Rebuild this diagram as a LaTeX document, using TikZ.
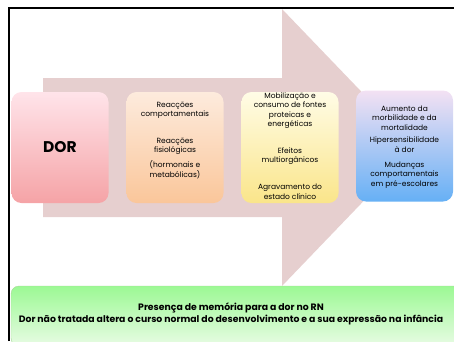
\documentclass[tikz,border=0pt]{standalone}
\usepackage{fontspec}
\setmainfont{Poppins}
\usetikzlibrary{positioning}
\definecolor{arrowpink}{HTML}{E6CFCF}
\definecolor{dortop}{HTML}{FFE4EA}
\definecolor{dorbottom}{HTML}{F5A3A6}
\definecolor{peachtop}{HTML}{FDEBDD}
\definecolor{peachbottom}{HTML}{FAC69A}
\definecolor{yellowtop}{HTML}{FFFCE6}
\definecolor{yellowbottom}{HTML}{FAE58A}
\definecolor{bluetop}{HTML}{F3E1F3}
\definecolor{bluemid}{HTML}{B3C8EE}
\definecolor{bluebottom}{HTML}{66B0F5}
\definecolor{greentop}{HTML}{9CF994}
\definecolor{greenbottom}{HTML}{E8FBE4}
\definecolor{greenedge}{HTML}{A8D89A}

\tikzset{
  stagebox/.style={rounded corners=10pt, minimum width=97pt, minimum height=111pt, inner sep=0pt},
  stagetext/.style={align=center, anchor=base, inner sep=0pt, font=\fontsize{7.5}{9.4}\selectfont},
}

\begin{document}
\begin{tikzpicture}[x=1pt, y=-1pt]
    \clip (0,0) rectangle (454,341);
    % slide frame
    \draw[line width=2pt] (9,341) -- (9,8) -- (454,8);
    % big arrow behind the stages
    \fill[arrowpink] (43,78) -- (282,78) -- (282,9) -- (415,147.5) -- (282,286)
      -- (282,217) -- (43,217) -- cycle;

    \node[stagebox, top color=dortop, bottom color=dorbottom] (dor) at (60,147.5)
      {\fontsize{15.5}{18}\selectfont\bfseries DOR};

    % last line of each text sits on the given baseline
    \node[stagebox, top color=peachtop, bottom color=peachbottom] (reaccoes) at (175,147.5) {};
    \node[stagetext] (reaccoestext) at (175,177) {%
      Reacções\\comportamentais\\[17.5pt]
      Reacções\\fisiológicas\\[5.5pt]
      (hormonais e\\metabólicas)};

    \node[stagebox, top color=yellowtop, bottom color=yellowbottom] (efeitos) at (290,147.5) {};
    \node[stagetext] (efeitostext) at (290,199) {%
      Mobilização e\\consumo de fontes\\proteicas e\\energéticas\\[17.5pt]
      Efeitos\\multiorgânicos\\[17.5pt]
      Agravamento do\\estado clínico};

    \node[stagebox, top color=bluetop, middle color=bluemid, bottom color=bluebottom] (consequencias) at (404.5,146) {};
    \node[stagetext] (consequenciastext) at (404.5,186) {%
      Aumento da\\morbilidade e da\\mortalidade\\[3.5pt]
      Hipersensibilidade\\à dor\\[5.5pt]
      Mudanças\\comportamentais\\em pré-escolares};

    % memory box
    \node[rounded corners=8pt, minimum width=450pt, minimum height=60pt, draw=greenedge,
          top color=greentop, bottom color=greenbottom] (memoria) at (236,316) {};
    \node[align=center, font=\fontsize{9.3}{12}\selectfont\bfseries] (memoriatext) at (231,314) {%
      Presença de memória para a dor no RN\\
      Dor não tratada altera o curso normal do desenvolvimento e a sua expressão na infância};
\end{tikzpicture}
\end{document}
